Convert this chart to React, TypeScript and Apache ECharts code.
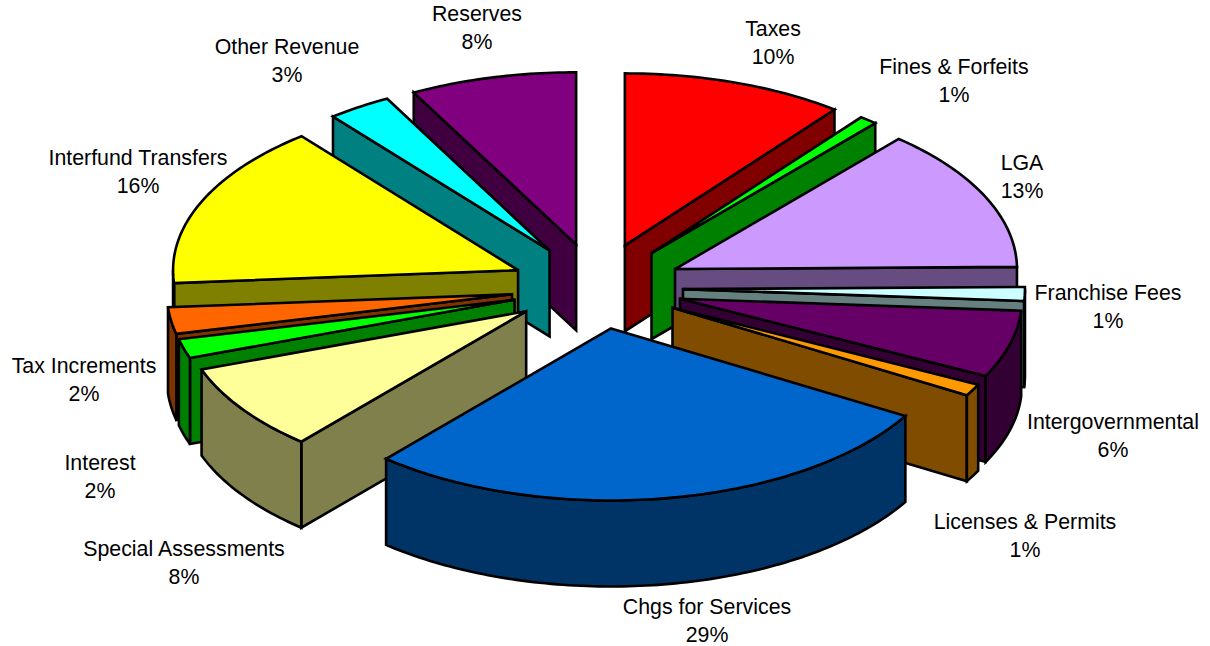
import React, { useEffect, useRef } from "react";
import * as echarts from "echarts";

const categories = ["Taxes", "Fines & Forfeits", "LGA", "Franchise Fees", "Intergovernmental", "Licenses & Permits", "Chgs for Services", "Special Assessments", "Interest", "Tax Increments", "Interfund Transfers", "Other Revenue", "Reserves"];
const percentLabels = [10, 1, 13, 1, 6, 1, 29, 8, 2, 2, 16, 3, 8];
const sliceShares = [10.5, 0.85, 13.45, 1.3, 6.3, 1.1, 27.8, 8.2, 1.8, 2.5, 15.4, 3.0, 7.8];
const topColors = ["#FF0000", "#00FF00", "#CC99FF", "#CCFFFF", "#660066", "#FF9900", "#0066CC", "#FFFF99", "#00FF00", "#FF6600", "#FFFF00", "#00FFFF", "#800080"];
const sideColors = ["#800000", "#008000", "#664C80", "#668080", "#330033", "#804C00", "#003366", "#80804C", "#008000", "#803300", "#808000", "#008080", "#400040"];
const labelCenters = [[773, 29], [954, 67], [1022, 163], [1108, 293], [1113, 422], [1025, 522], [707, 607], [184, 549], [100, 463], [84, 366], [138, 158], [287, 47], [477, 14]];

const CX = 597, CY = 288, RX_RIGHT = 342, RX_LEFT = 345, RY = 172, DEPTH = 86;
const EX_X = 86, EX_BACK = 45, EX_FRONT = 41;
const LINE_GAP = 28;
const total = sliceShares.reduce((a, b) => a + b, 0);
const rad = (d: number) => (d * Math.PI) / 180;
const spans = (() => {
  let s = 0;
  return sliceShares.map((v) => {
    const a0 = s;
    s += (v / total) * 360;
    return [a0, s];
  });
})();
const drawOrder = sliceShares.map((_, i) => i).sort((p, q) => Math.cos(rad((spans[q][0] + spans[q][1]) / 2)) - Math.cos(rad((spans[p][0] + spans[p][1]) / 2)));

function renderItem(_params: any, api: any) {
  const i = api.value(0);
  const [a0, a1] = spans[i];
  const mid = rad((a0 + a1) / 2);
  const ax = CX + EX_X * Math.sin(mid);
  const c = Math.cos(mid);
  const ay = CY - (c > 0 ? EX_BACK : EX_FRONT) * c;
  const pt = (d: number, h = 0) => {
    const s = Math.sin(rad(d));
    return [ax + (s < 0 ? RX_LEFT : RX_RIGHT) * s, ay - RY * Math.cos(rad(d)) + h];
  };
  const style = (fill: string) => ({ fill, stroke: "#000", lineWidth: 2.6, lineJoin: "miter", miterLimit: 3 });
  const poly = (points: number[][], fill: string, z2: number) => ({ type: "polygon", z2, shape: { points }, style: style(fill) });
  const rank = drawOrder.indexOf(i) * 10;
  const children: any[] = [];
  const side = sideColors[i];
  if (Math.sin(rad(a0)) < 0) children.push(poly([[ax, ay], pt(a0), pt(a0, DEPTH), [ax, ay + DEPTH]], side, rank + 1));
  if (Math.sin(rad(a1)) > 0) children.push(poly([[ax, ay], pt(a1), pt(a1, DEPTH), [ax, ay + DEPTH]], side, rank + 1));
  const lo = Math.max(a0, 90), hi = Math.min(a1, 270);
  if (hi > lo) {
    const upper: number[][] = [], lower: number[][] = [];
    const n = Math.max(2, Math.ceil(hi - lo));
    for (let k = 0; k <= n; k++) {
      const d = lo + ((hi - lo) * k) / n;
      upper.push(pt(d));
      lower.unshift(pt(d, DEPTH));
    }
    children.push(poly(upper.concat(lower), side, rank + 2));
  }
  const top: number[][] = [[ax, ay]];
  const m = Math.max(2, Math.ceil(a1 - a0));
  for (let k = 0; k <= m; k++) top.push(pt(a0 + ((a1 - a0) * k) / m));
  children.push(poly(top, topColors[i], rank + 3));
  return { type: "group", children };
}

const labelText = (text: string, x: number, y: number) => ({
  type: "text",
  x,
  y,
  z: 100,
  style: {
    text,
    fontFamily: "Liberation Sans",
    fontSize: 21.33,
    lineHeight: 20,
    fill: "#000",
    align: "center",
    verticalAlign: "middle",
  },
});

export default function App() {
  const ref = useRef<HTMLDivElement>(null);
  useEffect(() => {
    const chart = echarts.init(ref.current!, undefined, { renderer: "svg" });
    chart.setOption({
      animation: false,
      backgroundColor: "#fff",
      series: [{
        type: "custom",
        coordinateSystem: "none",
        renderItem,
        data: drawOrder.map((i) => ({ name: categories[i], value: [i, sliceShares[i]] })),
      }],
      graphic: categories.flatMap((name, i) => [
        labelText(name, labelCenters[i][0], labelCenters[i][1]),
        labelText(`${percentLabels[i]}%`, labelCenters[i][0], labelCenters[i][1] + LINE_GAP),
      ]),
    });
    return () => chart.dispose();
  }, []);
  return <div ref={ref} style={{ position: "fixed", left: 0, top: 0, width: 1210, height: 646 }} />;
}
